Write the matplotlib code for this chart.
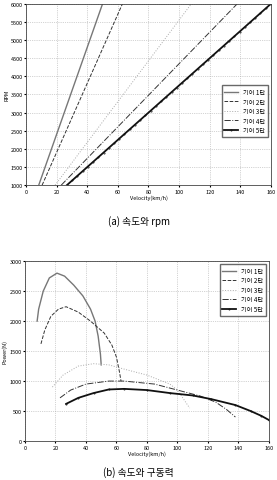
import numpy as np
import matplotlib.pyplot as plt

plt.rcParams['font.family'] = ['Noto Sans CJK KR', 'DejaVu Sans']

# (a) 속도와 rpm : 각 기어의 시작/끝 속도 (rpm 1000 -> 6000)
rpm_ends = [1000, 6000]
gear_v_ends = [
    [8.3, 50],
    [10.5, 63],
    [19, 108],
    [23, 138],
    [26.7, 160],
]

# (b) 속도와 구동력
v1 = [8, 9, 12, 16, 21, 26, 32, 38, 43, 46, 48, 49.5, 50]
f1 = [2000, 2200, 2500, 2720, 2800, 2750, 2600, 2420, 2200, 2000, 1750, 1450, 1270]
v2 = [10.5, 13, 17, 22, 27, 35, 43, 52, 57, 60, 62, 63]
f2 = [1620, 1850, 2080, 2200, 2240, 2150, 2000, 1800, 1600, 1400, 1150, 1000]
v3 = [18, 25, 35, 45, 55, 65, 80, 95, 100, 104, 108]
f3 = [900, 1100, 1250, 1290, 1270, 1200, 1100, 950, 850, 700, 550]
v4 = [23, 30, 40, 55, 65, 85, 100, 115, 125, 132, 138]
f4 = [720, 850, 950, 1000, 1000, 950, 850, 750, 650, 530, 400]
v5 = [27, 35, 45, 55, 65, 80, 95, 110, 122, 138, 148, 155, 160]
f5 = [620, 720, 800, 860, 870, 850, 800, 760, 700, 600, 500, 420, 350]

labels = ['기어 1단', '기어 2단', '기어 3단', '기어 4단', '기어 5단']
styles = [
    dict(color='#777777', ls='-', lw=1.0),
    dict(color='#333333', ls='--', lw=0.7),
    dict(color='#aaaaaa', ls=':', lw=0.7),
    dict(color='#333333', ls='-.', lw=0.7),
    dict(color='#111111', ls='-', lw=1.3, marker='.', ms=0.8),
]

fig = plt.figure(figsize=(2.77, 4.81), dpi=100)

def style_axes(ax, ylabel, yticks):
    ax.set_xlim(0, 160)
    ax.set_xticks(range(0, 161, 20))
    ax.set_yticks(yticks)
    ax.tick_params(labelsize=4, length=1.5, pad=1)
    ax.grid(True, ls=':', color='#aaaaaa', lw=0.5)
    ax.set_xlabel('Velocity(km/h)', fontsize=4, labelpad=1)
    ax.set_ylabel(ylabel, fontsize=4, labelpad=1)
    for s in ax.spines.values():
        s.set_linewidth(0.6)
        s.set_color('#444444')

ax1 = fig.add_axes([0.094, 0.613, 0.884, 0.377])
for ve, lab, st in zip(gear_v_ends, labels, styles):
    kw = dict(st)
    if 'marker' in kw:
        vv = np.linspace(ve[0], ve[1], 40)
        rr = np.interp(vv, ve, rpm_ends)
        ax1.plot(vv, rr, label=lab, **kw)
    else:
        ax1.plot(ve, rpm_ends, label=lab, **kw)
ax1.set_ylim(1000, 6000)
style_axes(ax1, 'RPM', range(1000, 6001, 500))
ax1.legend(loc='lower right', bbox_to_anchor=(1.0, 0.25), fontsize=4.5,
           frameon=True, fancybox=False, edgecolor='#444444',
           handlelength=2.2, borderpad=0.4, labelspacing=0.25)
fig.text(0.5, 0.532, '(a) 속도와 rpm', ha='center', fontsize=7)

ax2 = fig.add_axes([0.090, 0.081, 0.881, 0.374])
for vv, ff, lab, st in zip([v1, v2, v3, v4, v5], [f1, f2, f3, f4, f5], labels, styles):
    ax2.plot(vv, ff, label=lab, **st)
ax2.set_ylim(0, 3000)
style_axes(ax2, 'Power(N)', range(0, 3001, 500))
ax2.legend(loc='upper right', fontsize=4.5, frameon=True, fancybox=False,
           edgecolor='#444444', handlelength=2.2, borderpad=0.4, labelspacing=0.25)
fig.text(0.5, 0.01, '(b) 속도와 구동력', ha='center', fontsize=7)

fig.savefig('out.png', dpi=100, facecolor='white')
